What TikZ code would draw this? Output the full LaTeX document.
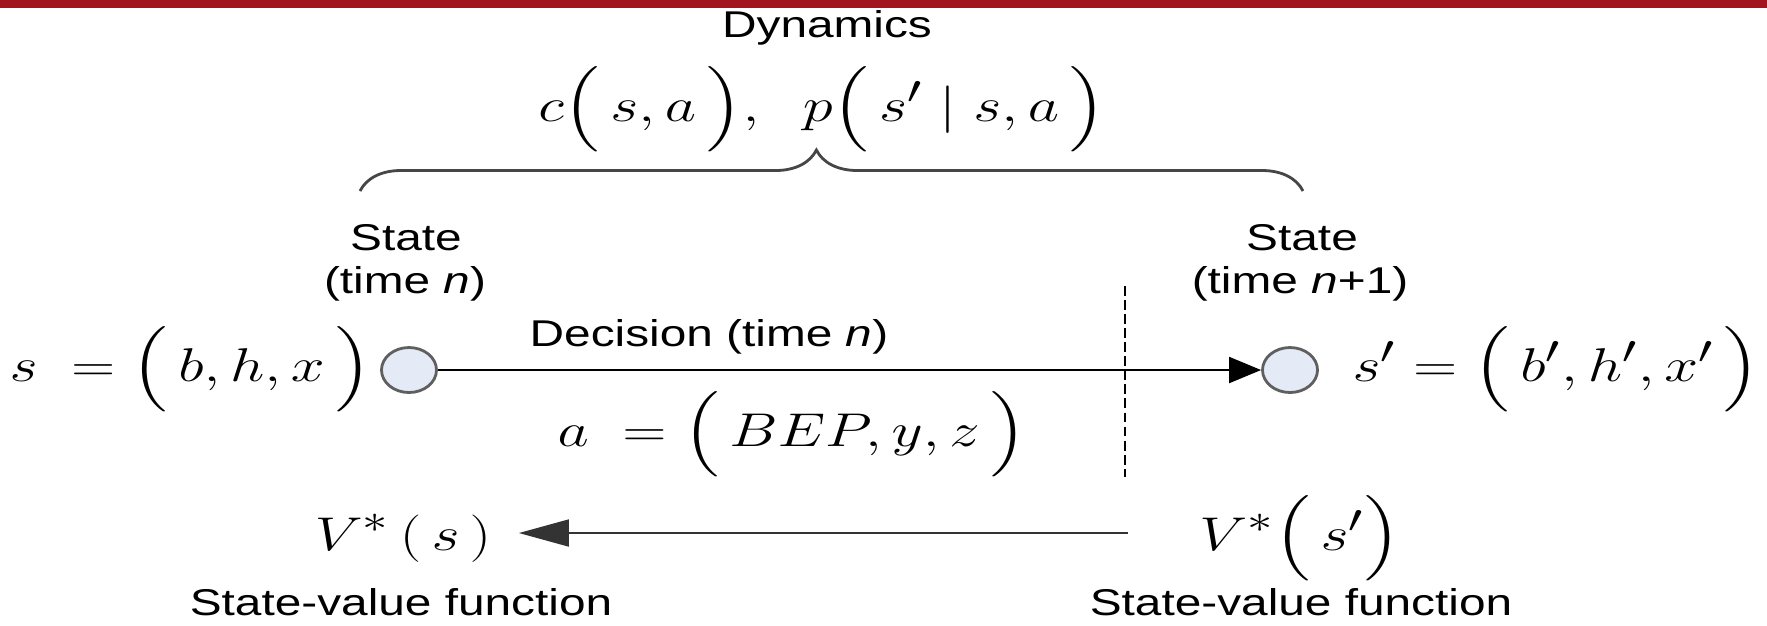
\documentclass[tikz,border=0pt]{standalone}
\usepackage{fontspec}
\setmainfont{Liberation Sans}
\usepackage{amsmath}
\usepackage{graphicx}
\usetikzlibrary{arrows.meta,positioning,shapes.geometric,decorations.pathreplacing}
\definecolor{bandred}{RGB}{163,21,30}
\definecolor{stfill}{RGB}{229,235,246}
\definecolor{stedge}{RGB}{95,95,95}
\definecolor{brgray}{RGB}{70,70,70}
\tikzset{
  txt/.style={font=\fontsize{13.6}{16}\selectfont, inner sep=0pt, anchor=base},
  mth/.style={font=\fontsize{19}{22}\selectfont, inner sep=0pt, anchor=base},
  st/.style={ellipse, draw=stedge, fill=stfill, line width=0.8pt,
             minimum width=0.55cm, minimum height=0.45cm, inner sep=0pt},
  fwd/.style={-{Triangle[length=3.2mm, width=2.6mm]}, line width=0.6pt},
  bwd/.style={-{Triangle[length=5mm, width=2.7mm]}, line width=0.5pt, black!80},
  dsh/.style={dash pattern=on 2.8pt off 1.2pt, line width=0.5pt},
  brc/.style={decorate, decoration={brace, amplitude=0.41cm, aspect=0.484},
              brgray, line width=0.8pt},
}
\newcommand{\vsq}[1]{\scalebox{1}[0.78]{#1}}

\begin{document}
\begin{tikzpicture}
  \useasboundingbox (0,0) rectangle (17.67,-6.25);
  \fill[bandred] (0,0) rectangle (17.67,-0.075);
  % dynamics
  \node[txt] (dyn) at (8.27,-0.37) {\vsq{Dynamics}};
  \node[mth] (dynm) at (8.22,-1.21) {\vsq{$c\Big(\,s,a\,\Big),\;\; p\Big(\,s'\mid s,a\,\Big)$}};
  \coordinate (brl) at (3.60,-1.91);
  \coordinate (brr) at (13.03,-1.91);
  \draw[brc] (brl) -- (brr);
  % states
  \node[txt] (stl) at (4.06,-2.50) {\vsq{State}};
  \node[txt] (tnl) at (4.05,-2.93) {\vsq{(time \textit{n})}};
  \node[txt] (str) at (13.02,-2.50) {\vsq{State}};
  \node[txt] (tnr) at (13.00,-2.93) {\vsq{(time \textit{n}+1)}};
  \node[st] (sL) at (4.09,-3.70) {};
  \node[st] (sR) at (12.90,-3.70) {};
  \node[mth, anchor=base east] (sLbl) at (3.72,-3.81) {\vsq{$s\;=\Big(\,b,h,x\,\Big)$}};
  \node[mth, anchor=base west] (sRbl) at (13.52,-3.81) {\vsq{$s'=\Big(\,b',h',x'\,\Big)$}};
  % decision
  \node[txt] (dec) at (7.09,-3.46) {\vsq{Decision (time \textit{n})}};
  \node[mth] (act) at (7.92,-4.46) {\vsq{$a\;=\Big(\,BEP,y,z\,\Big)$}};
  \draw[fwd] (sL) -- (sR);
  \coordinate (dtop) at (11.25,-2.86);
  \coordinate (dbot) at (11.25,-4.77);
  \draw[dsh] (dtop) -- (dbot);
  % value functions
  \node[mth] (vL) at (4.03,-5.50) {\vsq{$V^{*}\,(\,s\,)$}};
  \node[mth] (vR) at (13.00,-5.50) {\vsq{$V^{*}\Big(\,s'\Big)$}};
  \coordinate (vs) at (11.28,-5.33);
  \draw[bwd] (vs) -- ([xshift=0.27cm]vs -| vL.east);
  \node[txt] (fnl) at (4.01,-6.15) {\vsq{State-value function}};
  \node[txt] (fnr) at (13.01,-6.15) {\vsq{State-value function}};
\end{tikzpicture}
\end{document}
